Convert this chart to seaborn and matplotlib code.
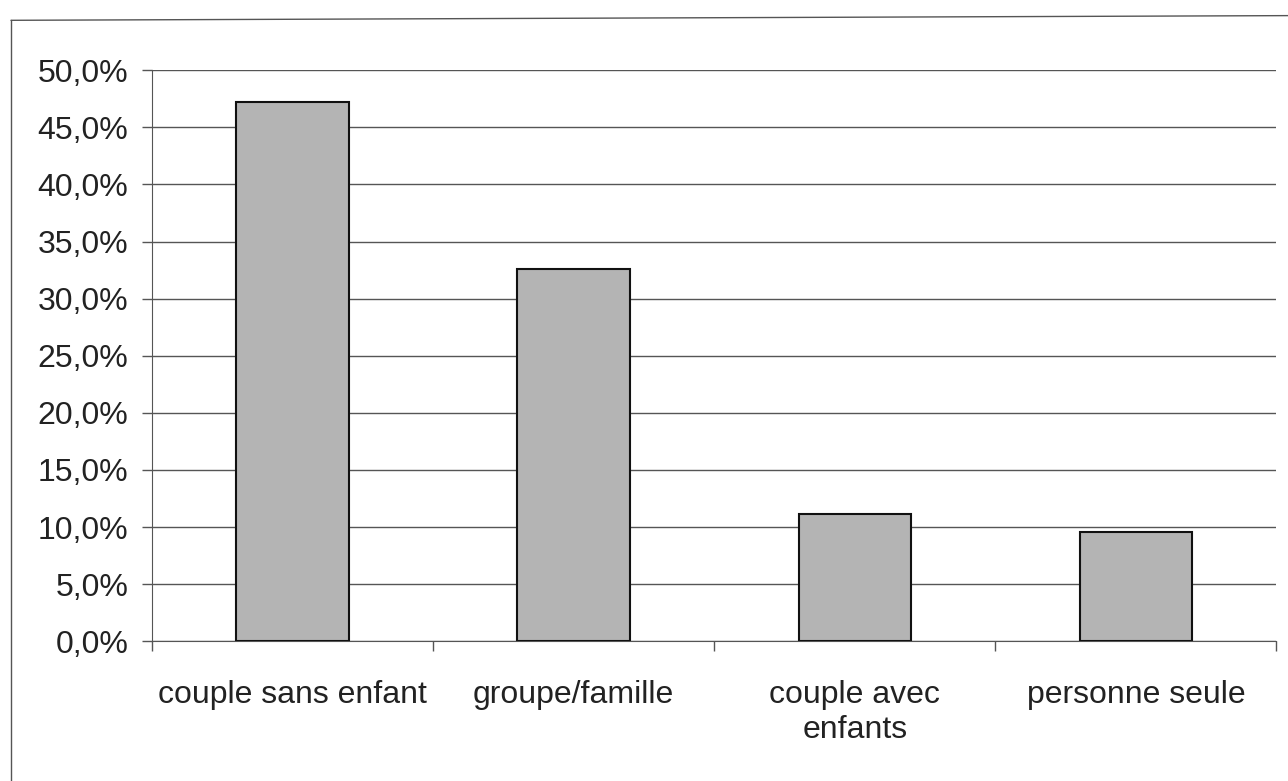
import numpy as np
import pandas as pd
import matplotlib
matplotlib.use("Agg")
import matplotlib.pyplot as plt
import matplotlib.ticker as mticker
from matplotlib.lines import Line2D
import seaborn as sns

categories = ["couple sans enfant", "groupe/famille", "couple avec\nenfants", "personne seule"]
values = [47.2, 32.6, 11.1, 9.6]
yticks = np.arange(0, 55, 5)

sns.set_style("white")
plt.rcParams["font.family"] = ["Liberation Sans", "DejaVu Sans"]

df = pd.DataFrame({"cat": categories, "val": values})

fig = plt.figure(figsize=(12.88, 7.81), dpi=100)
ax = fig.add_axes([0.118, 0.179, 0.873, 0.731])

sns.barplot(data=df, x="cat", y="val", color="#b4b4b4", saturation=1,
            width=0.4, edgecolor="#111111", linewidth=1.5, ax=ax, zorder=3)

ax.set_ylim(0, 50)
ax.set_xlim(-0.5, 3.5)
ax.set_yticks(yticks)
ax.yaxis.set_major_formatter(mticker.FuncFormatter(lambda v, p: f"{v:.1f}%".replace(".", ",")))
ax.grid(axis="y", color="#555555", linewidth=1, zorder=0)
ax.set_axisbelow(True)
ax.set_xlabel("")
ax.set_ylabel("")

for s in ["top", "right"]:
    ax.spines[s].set_visible(False)
ax.spines["left"].set_color("#555555")
ax.spines["bottom"].set_color("#555555")

# category boundary ticks on x, outward ticks on y
ax.set_xticks(np.arange(-0.5, 4, 1), minor=True)
ax.tick_params(axis="x", which="minor", length=7, width=1, color="#555555", direction="out")
ax.tick_params(axis="x", which="major", length=0, pad=28, labelsize=23, colors="#222222")
ax.tick_params(axis="y", length=7, width=1, color="#555555", direction="out", pad=10,
               labelsize=23, labelcolor="#222222")
ax.yaxis.set_ticks_position("left")
ax.xaxis.set_ticks_position("bottom")

# outer chart frame
fig.add_artist(Line2D([0.0085, 0.0085], [0.974, 0.0], transform=fig.transFigure,
                      color="#555555", linewidth=1))
fig.add_artist(Line2D([0.0085, 1.0], [0.974, 0.98], transform=fig.transFigure,
                      color="#555555", linewidth=1))

fig.savefig("out.png", dpi=100)
